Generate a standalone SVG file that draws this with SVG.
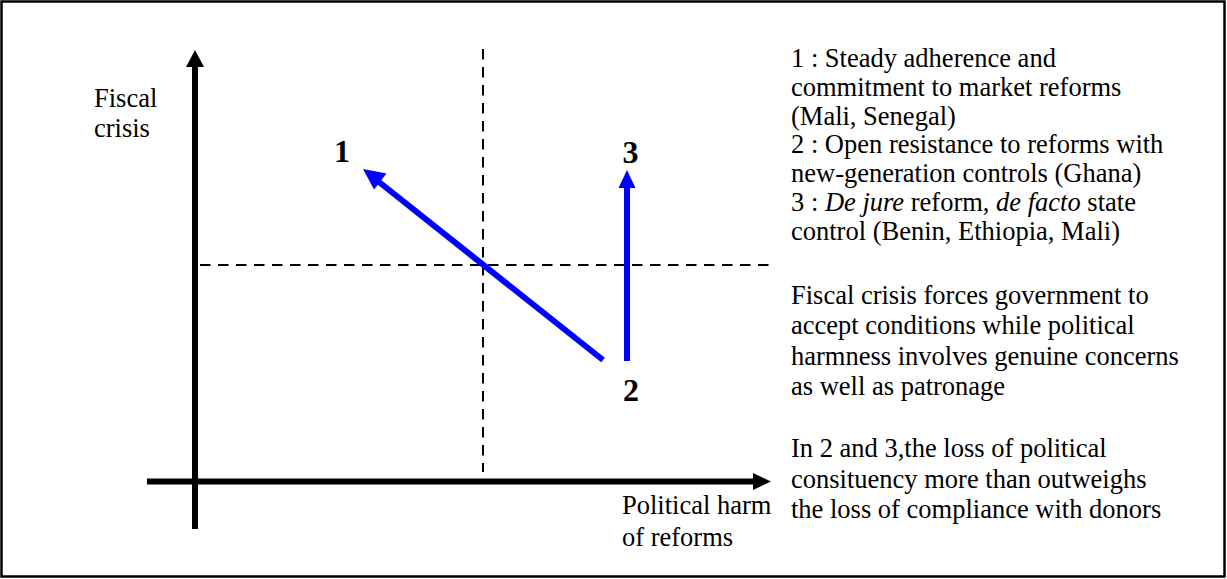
<svg xmlns="http://www.w3.org/2000/svg" width="1227" height="579" viewBox="0 0 1227 579">
<style>
.t{font-family:"Liberation Serif","Times New Roman",serif;font-size:26.5px;fill:#000}
.n{font-family:"Liberation Serif","Times New Roman",serif;font-size:32px;font-weight:bold;fill:#000;text-anchor:middle}
.axis{stroke:#000;stroke-width:6;fill:none}
.dash{stroke:#000;stroke-width:2;stroke-dasharray:10.5 7.5;fill:none}
.blue{stroke:#0000FF;stroke-width:6;fill:none}
</style>
<rect x="1.5" y="1.5" width="1223" height="575" fill="#fff" stroke="#000" stroke-width="2.5"/>
<g id="connectors">
  <line class="dash" x1="483" y1="49" x2="483" y2="472"/>
  <line class="dash" x1="200" y1="265" x2="772" y2="265"/>
  <line class="axis" x1="195" y1="529" x2="195" y2="64"/>
  <polygon points="195,50 186,67 204,67" fill="#000"/>
  <line class="axis" x1="147" y1="481.5" x2="756" y2="481.5"/>
  <polygon points="771,481.5 753,473 753,490" fill="#000"/>
  <line class="blue" x1="603" y1="360" x2="374" y2="178"/>
  <polygon points="363,169 386.5,173.5 374,189.5" fill="#0000FF"/>
  <line class="blue" x1="627" y1="361" x2="627" y2="184"/>
  <polygon points="627,170 618.5,188 635.5,188" fill="#0000FF"/>
</g>
<g id="axis-y-label">
  <text class="t" x="94" y="107">Fiscal</text>
  <text class="t" x="94" y="137">crisis</text>
</g>
<g id="axis-x-label">
  <text class="t" x="622" y="514">Political harm</text>
  <text class="t" x="622" y="546">of reforms</text>
</g>
<g id="node-1"><text class="n" x="342" y="162">1</text></g>
<g id="node-2"><text class="n" x="631" y="401">2</text></g>
<g id="node-3"><text class="n" x="630.5" y="162.5">3</text></g>
<g id="legend">
  <text class="t" x="791" y="67">1 : Steady adherence and</text>
  <text class="t" x="791" y="96">commitment to market reforms</text>
  <text class="t" x="791" y="124.5">(Mali, Senegal)</text>
  <text class="t" x="791" y="153">2 : Open resistance to reforms with</text>
  <text class="t" x="791" y="182">new-generation controls (Ghana)</text>
  <text class="t" x="791" y="211">3 : <tspan font-style="italic">De jure</tspan> reform, <tspan font-style="italic">de facto</tspan> state</text>
  <text class="t" x="791" y="240">control (Benin, Ethiopia, Mali)</text>
</g>
<g id="note-1">
  <text class="t" x="791" y="304">Fiscal crisis forces government to</text>
  <text class="t" x="791" y="334">accept conditions while political</text>
  <text class="t" x="791" y="365">harmness involves genuine concerns</text>
  <text class="t" x="791" y="395">as well as patronage</text>
</g>
<g id="note-2">
  <text class="t" x="791" y="457">In 2 and 3,the loss of political</text>
  <text class="t" x="791" y="488">consituency more than outweighs</text>
  <text class="t" x="791" y="518">the loss of compliance with donors</text>
</g>
</svg>
